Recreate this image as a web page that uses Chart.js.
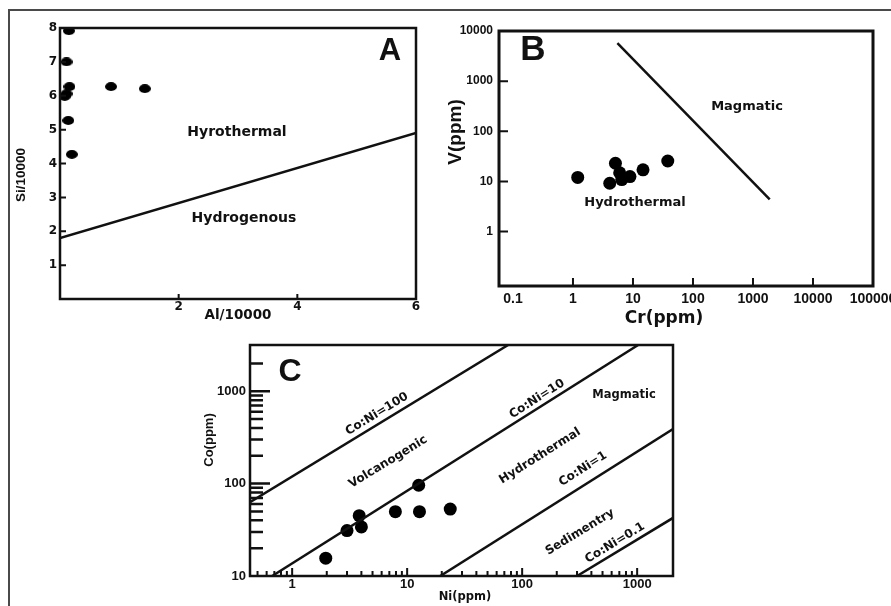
<!DOCTYPE html>
<html>
<head>
<meta charset="utf-8">
<script src="https://cdn.jsdelivr.net/npm/chart.js@4/dist/chart.umd.min.js"></script>
<style>
  html, body { margin: 0; padding: 0; background: #fff; overflow: hidden; }
  #page { position: relative; width: 891px; height: 606px; }
  #page canvas { position: absolute; left: 0; top: 0; }
  #frame { position: absolute; left: 8px; top: 9px; width: 900px; height: 620px; border: 2px solid #4a4a4a; }
</style>
</head>
<body>
<div id="page">
  <div id="frame"></div>
  <canvas id="chartA" width="891" height="606"></canvas>
  <canvas id="chartB" width="891" height="606"></canvas>
  <canvas id="chartC" width="891" height="606"></canvas>
</div>
<script>
// ---- panel A : Si/10000 vs Al/10000
var alValues = [0.15, 0.11, 0.16, 0.11, 0.08, 0.14, 0.20, 0.86, 1.43];
var siValues = [7.92, 7.0, 6.27, 6.06, 5.98, 5.27, 4.27, 6.27, 6.21];
var aLineAl = [0, 6];
var aLineSi = [1.8, 4.9];
var aLabelsX = [2, 4, 6];
var aLabelsY = [1, 2, 3, 4, 5, 6, 7, 8];
var aMarksX = [2, 4];
var aMarksY = [1, 2, 3, 4, 5, 6, 7];

// ---- panel B : V vs Cr (ppm)
var crValues = [1.2, 5.1, 4.1, 6.5, 8.9, 6.0, 14.7, 38];
var vValues = [12, 23, 9.2, 10.9, 12.5, 14.9, 17, 25.5];
var bLineCr = [5.5, 1900];
var bLineV = [5700, 4.4];
var bLabelsX = [0.1, 1, 10, 100, 1000, 10000, 100000];
var bLabelsY = [1, 10, 100, 1000, 10000];
var bMarksX = [1, 10, 100, 1000, 10000];
var bMarksY = [1, 10, 100, 1000];

// ---- panel C : Co vs Ni (ppm)
var niValues = [1.96, 3.0, 3.83, 4.0, 7.9, 12.6, 12.8, 23.7];
var coValues = [15.6, 31, 45, 34, 49.7, 96, 49.7, 53];
var ratio100Ni = [0.43, 75.5], ratio100Co = [63, 3162];
var ratio10Ni = [0.67, 1020], ratio10Co = [10, 3162];
var ratio1Ni = [19.4, 2050], ratio1Co = [10, 390];
var ratio01Ni = [300, 2050], ratio01Co = [10, 42.5];
var cLabelsX = [1, 10, 100, 1000];
var cLabelsY = [10, 100, 1000];
var cMajorX = [1, 10, 100, 1000];
var cMinorX = [0.5, 0.6, 0.7, 0.8, 0.9, 2, 3, 4, 5, 6, 7, 8, 9, 20, 30, 40, 50, 60, 70, 80, 90,
               200, 300, 400, 500, 600, 700, 800, 900];
var cMajorY = [100, 1000];
var cMinorY = [20, 30, 40, 50, 60, 70, 80, 90, 200, 300, 400, 500, 600, 700, 800, 900, 2000];

Chart.defaults.font.family = '"Liberation Sans", Arial, sans-serif';
Chart.defaults.color = '#111';

function pts(xs, ys) {
  return xs.map(function (x, i) { return { x: x, y: ys[i] }; });
}

function onlyIn(list) {
  return function (value) {
    var hit = list.some(function (v) { return Math.abs(v - value) <= Math.abs(v) * 1e-6; });
    return hit ? String(value) : '';
  };
}

// frame around the plot area and short inward tick marks
function framePlugin(width, marks) {
  return {
    id: 'frame',
    afterDatasetsDraw: function (chart) {
      var ctx = chart.ctx, a = chart.chartArea;
      ctx.save();
      ctx.strokeStyle = '#111';
      marks.forEach(function (m) {
        var s = chart.scales[m.axis];
        ctx.lineWidth = m.width || 2;
        ctx.beginPath();
        m.values.forEach(function (v) {
          var p = s.getPixelForValue(v);
          if (m.axis === 'x') { ctx.moveTo(p, a.bottom); ctx.lineTo(p, a.bottom - m.length); }
          else { ctx.moveTo(a.left, p); ctx.lineTo(a.left + m.length, p); }
        });
        ctx.stroke();
      });
      ctx.lineWidth = width;
      ctx.strokeRect(a.left, a.top, a.right - a.left, a.bottom - a.top);
      ctx.restore();
    }
  };
}

// titles, panel letters and field names
function notesPlugin(items) {
  return {
    id: 'notes',
    afterDraw: function (chart) {
      var ctx = chart.ctx, xs = chart.scales.x, ys = chart.scales.y;
      items.forEach(function (n) {
        var angle = n.angle || 0;
        if (n.along) {
          angle = Math.atan2(ys.getPixelForValue(n.along[1][1]) - ys.getPixelForValue(n.along[1][0]),
                             xs.getPixelForValue(n.along[0][1]) - xs.getPixelForValue(n.along[0][0]));
        }
        ctx.save();
        ctx.font = n.font;
        ctx.fillStyle = '#111';
        ctx.textAlign = 'center';
        ctx.textBaseline = 'middle';
        ctx.translate(n.x, n.y);
        ctx.rotate(angle);
        ctx.fillText(n.text, 0, 0);
        ctx.restore();
      });
    }
  };
}

function fixX(h) {
  return function (s) { s.height = h; s.paddingLeft = 0; s.paddingRight = 0; };
}
function fixY(w) {
  return function (s) { s.width = w; s.paddingTop = 0; s.paddingBottom = 0; };
}

var baseOpts = {
  animation: false,
  responsive: false,
  events: [],
  plugins: { legend: { display: false }, tooltip: { enabled: false } }
};

function axis(extra) {
  var o = {
    grid: { display: false, drawTicks: false },
    border: { display: false }
  };
  for (var k in extra) o[k] = extra[k];
  return o;
}

var DJ = '"DejaVu Sans", sans-serif';
var LS = '"Liberation Sans", Arial, sans-serif';

// elliptical dots as in panel A
var dotA = document.createElement('canvas');
dotA.width = 12; dotA.height = 9;
var g = dotA.getContext('2d');
g.fillStyle = '#000';
g.beginPath();
g.ellipse(6, 4.5, 6, 4.4, 0, 0, Math.PI * 2);
g.fill();

// ---------- A
new Chart(document.getElementById('chartA'), {
  type: 'scatter',
  data: {
    datasets: [
      { data: pts(alValues, siValues), pointStyle: dotA, pointRadius: 6, backgroundColor: '#000', clip: 0 },
      { data: pts(aLineAl, aLineSi), showLine: true, pointRadius: 0, borderColor: '#111', borderWidth: 2.5, clip: 0 }
    ]
  },
  options: Object.assign({}, baseOpts, {
    layout: { padding: { left: 10, top: 28, right: 891 - 416, bottom: 606 - 299 - 20 } },
    scales: {
      x: axis({ type: 'linear', min: 0, max: 6, afterFit: fixX(20),
        ticks: { stepSize: 2, padding: 1, maxRotation: 0, autoSkip: false,
                 font: { family: DJ, weight: 'bold', size: 12 }, callback: onlyIn(aLabelsX) } }),
      y: axis({ type: 'linear', min: 0, max: 8, afterFit: fixY(50),
        ticks: { stepSize: 1, padding: 3, autoSkip: false,
                 font: { family: DJ, weight: 'bold', size: 12 }, callback: onlyIn(aLabelsY) } })
    }
  }),
  plugins: [
    framePlugin(2.5, [
      { axis: 'x', values: aMarksX, length: 5 },
      { axis: 'y', values: aMarksY, length: 6 }
    ]),
    notesPlugin([
      { text: 'A', x: 390, y: 51, font: 'bold 31px ' + LS },
      { text: 'Hyrothermal', x: 237, y: 132, font: 'bold 14px ' + DJ },
      { text: 'Hydrogenous', x: 244, y: 218, font: 'bold 14px ' + DJ },
      { text: 'Al/10000', x: 238, y: 315, font: 'bold 13.5px ' + DJ },
      { text: 'Si/10000', x: 21, y: 175, angle: -Math.PI / 2, font: 'bold 13.5px ' + LS }
    ])
  ]
});

// ---------- B
new Chart(document.getElementById('chartB'), {
  type: 'scatter',
  data: {
    datasets: [
      { data: pts(crValues, vValues), pointRadius: 6.5, backgroundColor: '#000', borderWidth: 0 },
      { data: pts(bLineCr, bLineV), showLine: true, pointRadius: 0, borderColor: '#111', borderWidth: 2.5 }
    ]
  },
  options: Object.assign({}, baseOpts, {
    layout: { padding: { left: 439, top: 31, right: 891 - 873, bottom: 606 - 286 - 30 } },
    scales: {
      x: axis({ type: 'logarithmic', min: 0.0585, max: 100000, afterFit: fixX(30),
        ticks: { padding: 5, maxRotation: 0, minRotation: 0, autoSkip: false,
                 font: { weight: 'bold', size: 14 }, callback: onlyIn(bLabelsX) } }),
      y: axis({ type: 'logarithmic', min: 0.082, max: 10000, afterFit: fixY(60),
        ticks: { padding: 6, autoSkip: false,
                 font: { weight: 'bold', size: 12 }, callback: onlyIn(bLabelsY) } })
    }
  }),
  plugins: [
    framePlugin(3, [
      { axis: 'x', values: bMarksX, length: 8 },
      { axis: 'y', values: bMarksY, length: 9 }
    ]),
    notesPlugin([
      { text: 'B', x: 533, y: 50, font: 'bold 35px ' + LS },
      { text: 'Magmatic', x: 747, y: 107, font: 'bold 13px ' + DJ },
      { text: 'Hydrothermal', x: 635, y: 203, font: 'bold 13px ' + DJ },
      { text: 'Cr(ppm)', x: 664, y: 319, font: 'bold 17px ' + DJ },
      { text: 'V(ppm)', x: 456, y: 132, angle: -Math.PI / 2, font: 'bold 19px ' + LS }
    ])
  ]
});

// ---------- C
var ratioLine = { showLine: true, pointRadius: 0, borderColor: '#111', borderWidth: 2.5 };
new Chart(document.getElementById('chartC'), {
  type: 'scatter',
  data: {
    datasets: [
      Object.assign({ data: pts(ratio100Ni, ratio100Co) }, ratioLine),
      Object.assign({ data: pts(ratio10Ni, ratio10Co) }, ratioLine),
      Object.assign({ data: pts(ratio1Ni, ratio1Co) }, ratioLine),
      Object.assign({ data: pts(ratio01Ni, ratio01Co) }, ratioLine),
      { data: pts(niValues, coValues), pointRadius: 6.5, backgroundColor: '#000', borderWidth: 0 }
    ]
  },
  options: Object.assign({}, baseOpts, {
    layout: { padding: { left: 200, top: 345, right: 891 - 673, bottom: 606 - 576 - 25 } },
    scales: {
      x: axis({ type: 'logarithmic', min: 0.43, max: 2050, afterFit: fixX(25),
        ticks: { padding: 1, maxRotation: 0, minRotation: 0, autoSkip: false,
                 font: { weight: 'bold', size: 13 }, callback: onlyIn(cLabelsX) } }),
      y: axis({ type: 'logarithmic', min: 10, max: 3162, afterFit: fixY(50),
        ticks: { padding: 4, autoSkip: false,
                 font: { weight: 'bold', size: 13 }, callback: onlyIn(cLabelsY) } })
    }
  }),
  plugins: [
    framePlugin(2.5, [
      { axis: 'x', values: cMinorX, length: 5 },
      { axis: 'x', values: cMajorX, length: 8 },
      { axis: 'y', values: cMinorY, length: 13, width: 2.5 },
      { axis: 'y', values: cMajorY, length: 20, width: 2.5 }
    ]),
    notesPlugin([
      { text: 'C', x: 290, y: 372, font: 'bold 32px ' + LS },
      { text: 'Co:Ni=100', x: 377, y: 414, along: [ratio100Ni, ratio100Co], font: 'bold 12px ' + DJ },
      { text: 'Volcanogenic', x: 388, y: 462, along: [ratio100Ni, ratio100Co], font: 'bold 12px ' + DJ },
      { text: 'Co:Ni=10', x: 537, y: 399, along: [ratio10Ni, ratio10Co], font: 'bold 12px ' + DJ },
      { text: 'Magmatic', x: 624, y: 395, font: 'bold 11.5px ' + DJ },
      { text: 'Hydrothermal', x: 540, y: 456, along: [ratio1Ni, ratio1Co], font: 'bold 12px ' + DJ },
      { text: 'Co:Ni=1', x: 583, y: 469, along: [ratio1Ni, ratio1Co], font: 'bold 12px ' + DJ },
      { text: 'Sedimentry', x: 580, y: 532, along: [ratio01Ni, ratio01Co], font: 'bold 12px ' + DJ },
      { text: 'Co:Ni=0.1', x: 615, y: 543, along: [ratio01Ni, ratio01Co], font: 'bold 12px ' + DJ },
      { text: 'Ni(ppm)', x: 465, y: 597, font: 'bold 11.5px ' + DJ },
      { text: 'Co(ppm)', x: 209, y: 440, angle: -Math.PI / 2, font: 'bold 13px ' + LS }
    ])
  ]
});
</script>
</body>
</html>
